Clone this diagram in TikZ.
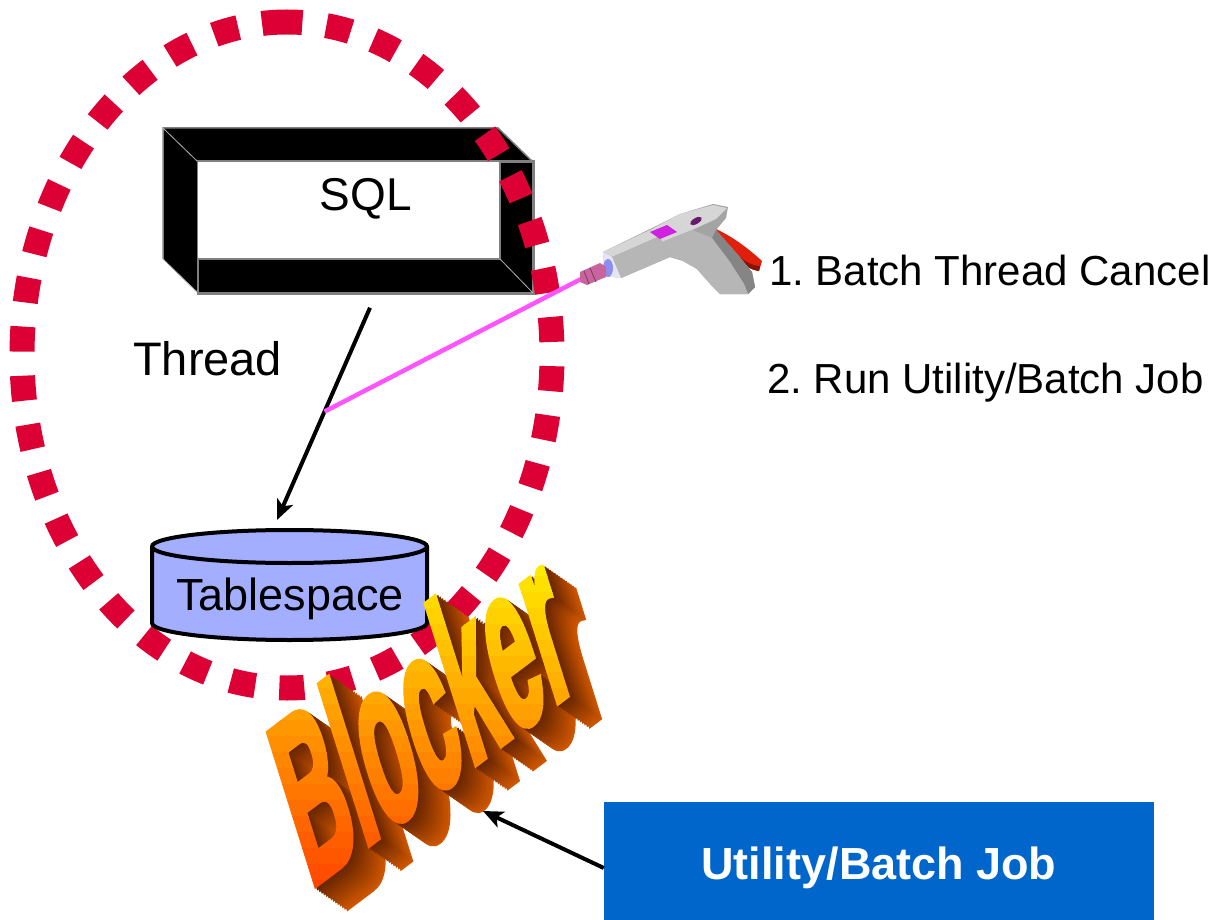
\documentclass[tikz,border=0pt]{standalone}
\usepackage{fontspec}
\setmainfont{Liberation Sans}
\newfontfamily\blkfont[FakeBold=3.5]{Liberation Sans}
\usetikzlibrary{arrows.meta,calc}
\definecolor{dashred}{HTML}{DC0034}
\definecolor{boxblue}{HTML}{0066CC}
\definecolor{cylfill}{HTML}{A3AEFF}
\definecolor{laserpink}{HTML}{FF55FF}
\definecolor{trigred}{HTML}{E0200C}
\definecolor{gunbody}{HTML}{A4A4A4}
\definecolor{gunlight}{HTML}{D6D6D6}
\definecolor{gunside}{HTML}{B6B6B6}
\definecolor{gundark}{HTML}{858585}
\definecolor{nozpink}{HTML}{C8649E}
\definecolor{ringblue}{HTML}{8E8EF0}
\definecolor{btnmag}{HTML}{D020E0}
\definecolor{slotpur}{HTML}{6A1A6A}
\tikzset{
  lbl/.style={inner sep=0pt, anchor=base west, font=\fontsize{42}{50}\selectfont},
  arr/.style={line width=4pt, -{Stealth[length=20pt,width=17pt,inset=5pt]}},
  dashring/.style={draw=dashred, line width=25pt, dash pattern=on 25pt off 24.2pt},
  laser/.style={draw=laserpink, line width=4.5pt},
  blk/.style={transform shape, anchor=base west, inner sep=0pt, xscale=0.43,
    font=\blkfont\bfseries\fontsize{215}{220}\selectfont},
  frameline/.style={draw=gray, line width=1.5pt}
}
\begin{document}
\frenchspacing
\begin{tikzpicture}[x=1pt,y=-1pt]
\useasboundingbox (0,0) rectangle (1216,920);
\fill[white] (0,0) rectangle (1216,920);

% ---- SQL box (3D frame) ----
\fill[black] (163,128) -- (498,128) -- (533,162) -- (198,162) -- cycle;
\fill[black] (163,128) -- (198,162) -- (198,293) -- (163,259) -- cycle;
\node[fill=black, frameline, minimum width=335pt, minimum height=131pt, inner sep=0pt] (sqlbox) at (365.5,227.5) {};
\fill[white] (198,162) rectangle (500,259);
\draw[frameline] (198,259) -- (500,259) -- (500,162);
\draw[frameline] (163,259) -- (163,128) -- (498,128) -- (533,162);
\draw[draw=gray!60, line width=0.8pt] (500,259) -- (533,293) (163,128) -- (198,162) (163,259) -- (198,293);
\draw[frameline] (sqlbox.south west) rectangle (sqlbox.north east);
\node[inner sep=0pt, anchor=base, font=\fontsize{46}{54}\selectfont] (sqltxt) at (366,211) {SQL};

% ---- labels ----
\node[lbl, font=\fontsize{47}{54}\selectfont] (thread) at (133,375) {Thread};
\node[lbl] (opt1) at (769,285) {1. Batch Thread Cancel};
\node[lbl] (opt2) at (767,393) {2. Run Utility/Batch Job};

% ---- arrow SQL -> Tablespace ----
\coordinate (sqlout) at ($(sqlbox.south)+(4.5,14)$);
\coordinate (tstop) at (277,520);
\draw[arr] (sqlout) -- (tstop);
\path (sqlout) -- (tstop) coordinate[pos=0.489] (hit);

% ---- dotted ring ----
\draw[dashring] (287,22) arc[start angle=270, end angle=-90, x radius=265, y radius=333];

% ---- laser ----
\coordinate (nozzle) at (583,278);
\draw[laser] (hit) -- (nozzle);

% ---- Tablespace cylinder ----
\filldraw[fill=cylfill, draw=black, line width=4pt]
  (152,546.5) -- (152,623) arc[start angle=180, end angle=0, x radius=137.5, y radius=17]
  -- (427,546.5) arc[start angle=0, end angle=-180, x radius=137.5, y radius=16.5] -- cycle;
\draw[black, line width=4pt] (152,546.5) arc[start angle=180, end angle=0, x radius=137.5, y radius=16.5];
\node[inner sep=0pt, anchor=base, font=\fontsize{45}{54}\selectfont] (tstext) at (290,610) {Tablespace};

% ---- gun ----
\fill[trigred] (716,229) .. controls (735,238) and (750,250) .. (762,261) -- (759,271)
  .. controls (750,270) and (740,263) .. (732,256) -- (720,245) -- cycle;
\fill[trigred!60!black] (759,271) .. controls (750,270) and (740,263) .. (732,256) -- (736,254)
  .. controls (744,261) and (752,266) .. (760,266) -- cycle;
\fill[gunbody] (603,252) -- (650,229) -- (680,214) -- (713,204) -- (728,207) -- (726,218)
  -- (716,230) -- (738,255) -- (752,272) -- (755,287) -- (748,294) -- (720,294) -- (712,286)
  -- (697,269) -- (683,261) -- (670,257) -- (621,278) -- (605,276) -- cycle;
\fill[gunlight] (603,252) -- (650,230) -- (660,236) -- (612,257) -- cycle;
\fill[gunlight] (650,230) -- (680,214) -- (713,205) -- (727,208) -- (716,219) -- (692,230) -- (662,242) -- (660,236) -- cycle;
\fill[gunside] (612,257) -- (660,236) -- (662,242) -- (670,257) -- (621,278) -- cycle;
\fill[gunlight!70!blue!25] (603,252) -- (612,257) -- (621,278) -- (605,276) -- cycle;
\fill[gundark] (716,230) -- (738,255) -- (752,272) -- (755,287) -- (748,294) -- (744,284) -- (730,262) -- (712,238) -- cycle;
\fill[gunside] (692,230) -- (712,238) -- (730,262) -- (744,284) -- (748,294) -- (720,294) -- (712,286) -- (697,269) -- (683,261) -- (670,257) -- (662,242) -- cycle;
\fill[btnmag] (650,232) -- (667,225) -- (677,232) -- (660,239) -- cycle;
\fill[slotpur] (696,221) ellipse[x radius=6.5pt, y radius=3pt, rotate=30];
\fill[ringblue] (608,268) ellipse[x radius=5pt, y radius=9pt];
\fill[nozpink] (580,272) -- (600,263) -- (606,267) -- (606,277) -- (587,285) -- (580,282) -- cycle;
\draw[nozpink!60!black, line width=0.8pt] (590,268) -- (596,282) (584,271) -- (589,284);

% ---- Blocker word art: extrusion ----
\foreach \k in {14,...,1}{
  \pgfmathsetmacro{\dx}{\k*2.3}
  \pgfmathsetmacro{\dy}{\k*1.6}
  \pgfmathtruncatemacro{\rr}{100+\k*7.5}
  \pgfmathtruncatemacro{\gg}{36+\k*3.5}
  \definecolor{extr}{RGB}{\rr,\gg,0}
  \begin{scope}[shift={(310+\dx,888+\dy)}, rotate=37, xslant=0.356]
    \node[blk, text=extr] (ex\k) at (0,0) {Blocker};
  \end{scope}
}
% ---- Blocker front face with vertical gradient ----
\foreach \i in {0,...,21}{
  \pgfmathsetmacro{\ya}{560+\i*16}
  \pgfmathsetmacro{\yb}{\ya+16.6}
  \pgfmathtruncatemacro{\gg}{234-\i*8.2}
  \definecolor{front}{RGB}{255,\gg,0}
  \begin{scope}
    \clip (0,\ya) rectangle (1216,\yb);
    \begin{scope}[shift={(310,888)}, rotate=37, xslant=0.356]
      \node[blk, text=front] (bl\i) at (0,0) {Blocker};
    \end{scope}
  \end{scope}
}

% ---- Utility/Batch Job box ----
\node[fill=boxblue, minimum width=550pt, minimum height=120pt, inner sep=0pt] (ub) at (879,862) {};
\node[inner sep=0pt, anchor=base, text=white, font=\bfseries\fontsize{45}{54}\selectfont] (ubtxt) at (879,879) {Utility/Batch Job};
\coordinate (ubout) at ($(ub.west)+(0,6)$);
\coordinate (blockhit) at (483,811);
\draw[arr] (ubout) -- (blockhit);
\end{tikzpicture}
\end{document}
